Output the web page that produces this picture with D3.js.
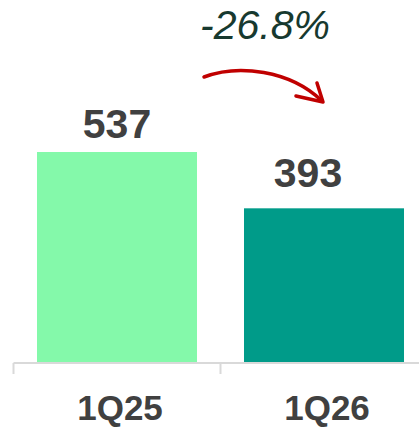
<!DOCTYPE html>
<html>
<head>
<meta charset="utf-8">
<script src="https://cdn.jsdelivr.net/npm/d3@7"></script>
<style>
  html, body { margin: 0; padding: 0; background: #fff; }
  svg { display: block; }
</style>
</head>
<body>
<svg id="chart" width="419" height="427"></svg>
<script>
// Quarterly values
const categories = ["1Q25", "1Q26"];
const values = [537, 393];
const changeLabel = "-26.8%";

const barColors = ["#84f9aa", "#009b89"];
const width = 419, height = 427;
const baseY = 362;

const svg = d3.select("#chart");

const x = d3.scaleBand()
  .domain(categories)
  .range([13.5, 427.5])
  .paddingInner(0.227)
  .paddingOuter(0.1135);

const y = d3.scaleLinear()
  .domain([0, d3.max(values)])
  .range([baseY, 152]);

const step = x.step();
const tickXs = categories.map(c => x(c) - step * x.paddingInner() / 2).concat([x(categories[1]) + x.bandwidth() + step * x.paddingInner() / 2]);

// Bars
svg.append("g").selectAll("rect")
  .data(values)
  .join("rect")
  .attr("x", (d, i) => x(categories[i]))
  .attr("y", d => y(d))
  .attr("width", x.bandwidth())
  .attr("height", d => y(0) - y(d))
  .attr("fill", (d, i) => barColors[i]);

// Category axis: baseline with separators between groups
const axis = svg.append("g").attr("stroke", "#d9d9d9").attr("stroke-width", 2).attr("fill", "none");
axis.append("line")
  .attr("x1", tickXs[0]).attr("x2", tickXs[tickXs.length - 1])
  .attr("y1", baseY + 1).attr("y2", baseY + 1);
axis.selectAll("line.tick")
  .data(tickXs)
  .join("line")
  .attr("class", "tick")
  .attr("x1", d => d).attr("x2", d => d)
  .attr("y1", baseY + 1).attr("y2", baseY + 12);

svg.append("g").selectAll("text")
  .data(categories)
  .join("text")
  .attr("x", d => x(d) + x.bandwidth() / 2 + 3)
  .attr("y", 419.5)
  .attr("text-anchor", "middle")
  .attr("font-family", "Liberation Sans, Arial, sans-serif")
  .attr("font-weight", "bold")
  .attr("font-size", 35)
  .attr("fill", "#404040")
  .text(d => d);

// Value labels above bars
const labelNudge = [{ dx: 0, dy: -14 }, { dx: -16, dy: -21 }];
svg.append("g").selectAll("text")
  .data(values)
  .join("text")
  .attr("x", (d, i) => x(categories[i]) + x.bandwidth() / 2 + labelNudge[i].dx)
  .attr("y", (d, i) => y(d) + labelNudge[i].dy)
  .attr("text-anchor", "middle")
  .attr("font-family", "Liberation Sans, Arial, sans-serif")
  .attr("font-weight", "bold")
  .attr("font-size", 41)
  .attr("fill", "#404040")
  .text(d => d);

// Change annotation
svg.append("text")
  .attr("x", 265)
  .attr("y", 39)
  .attr("text-anchor", "middle")
  .attr("font-family", "Liberation Sans, Arial, sans-serif")
  .attr("font-style", "italic")
  .attr("font-size", 41)
  .attr("fill", "#17392f")
  .text(changeLabel);

const arrow = svg.append("g")
  .attr("fill", "none")
  .attr("stroke", "#c00000")
  .attr("stroke-width", 3.5)
  .attr("stroke-linecap", "round")
  .attr("stroke-linejoin", "round");
arrow.append("path").attr("d", "M204,77 C238,64 290,70 322,101");
arrow.append("path").attr("d", "M317,83 L323,102 L296,96");
</script>
</body>
</html>
